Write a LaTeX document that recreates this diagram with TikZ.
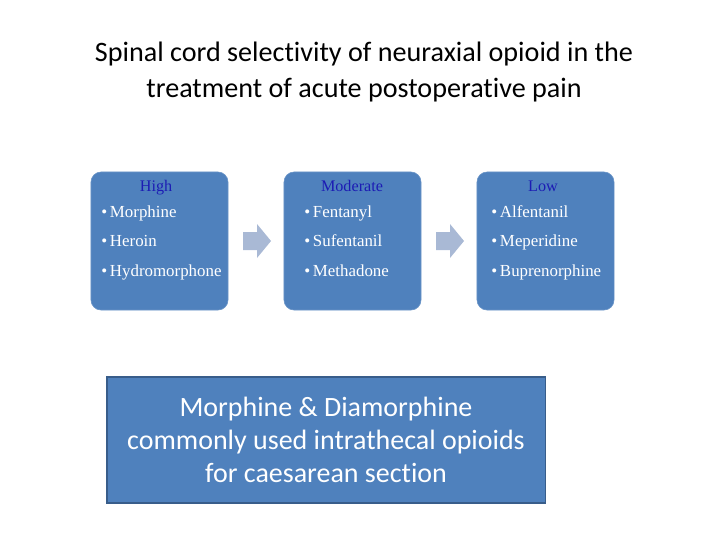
\documentclass[tikz,border=0pt]{standalone}
\usepackage{fontspec}
\setmainfont{Carlito}[Ligatures=NoCommon]
\newfontfamily\tierfont{Liberation Serif}
\usetikzlibrary{positioning}

\definecolor{boxblue}{HTML}{4F81BD}
\definecolor{boxedge}{HTML}{385D8A}
\definecolor{arrowgray}{HTML}{A9B9D5}
\definecolor{headblue}{HTML}{1C1CB4}

\tikzset{
  tierbox/.style={rectangle, rounded corners=0.25cm, fill=boxblue, draw=boxblue!85!white,
    minimum width=3.425cm, minimum height=3.45cm, inner sep=0pt},
  tierhead/.style={font=\tierfont\fontsize{11.5}{13}\selectfont, text=headblue, anchor=base, inner sep=0pt},
  tieritem/.style={font=\tierfont\fontsize{12}{13}\selectfont, text=white, anchor=base west, inner sep=0pt},
  flowarrow/.style={fill=arrowgray, draw=none}
}

\begin{document}
\begin{tikzpicture}[x=0.025cm, y=-0.025cm]
        % Page frame (720 x 540)
        \useasboundingbox (0,0) rectangle (720,540);

        % Title
        \node[align=center, font=\fontsize{20}{25.5}\selectfont] (title) at (364,72)
          {Spinal cord selectivity of neuraxial opioid in the\\treatment of acute postoperative pain};

        % The three tier boxes
        \node[tierbox] (high) at (159.5,241) {};
        \node[tierbox] (moderate) at (352.5,241) {};
        \node[tierbox] (low) at (545.5,241) {};

        % Block arrows between the boxes
        \draw[flowarrow] (243,232) -- (257,232) -- (257,224) -- (271,241) -- (257,258) -- (257,250) -- (243,250) -- cycle;
        \draw[flowarrow] (436,232) -- (450,232) -- (450,224) -- (464,241) -- (450,258) -- (450,250) -- (436,250) -- cycle;

        % High
        \node[tierhead] (highHead) at (156,191) {High};
        \node[tieritem] (highA) at (101,217) {\textbullet\,Morphine};
        \node[tieritem] (highB) at (101,246.5) {\textbullet\,Heroin};
        \node[tieritem] (highC) at (101,276) {\textbullet\,Hydromorphone};

        % Moderate
        \node[tierhead] (modHead) at (352,191) {Moderate};
        \node[tieritem] (modA) at (304,217) {\textbullet\,Fentanyl};
        \node[tieritem] (modB) at (304,246.5) {\textbullet\,Sufentanil};
        \node[tieritem] (modC) at (304,276) {\textbullet\,Methadone};

        % Low
        \node[tierhead] (lowHead) at (543,191) {Low};
        \node[tieritem] (lowA) at (491,217) {\textbullet\,Alfentanil};
        \node[tieritem] (lowB) at (491,246.5) {\textbullet\,Meperidine};
        \node[tieritem] (lowC) at (491,276) {\textbullet\,Buprenorphine};

        % Note box
        \node[rectangle, fill=boxblue, draw=boxedge, line width=0.8pt, minimum width=10.95cm, minimum height=3.15cm,
              align=center, text=white, font=\fontsize{19.9}{23.5}\selectfont] (note) at (326,440)
          {Morphine \& Diamorphine\\commonly used intrathecal opioids\\for caesarean section};
\end{tikzpicture}
\end{document}
